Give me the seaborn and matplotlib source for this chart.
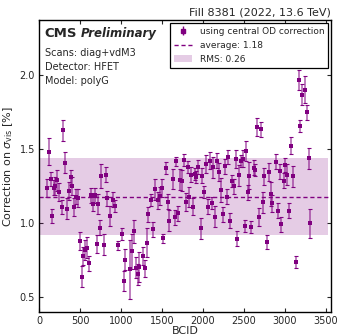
import matplotlib
matplotlib.use("Agg")
import matplotlib.pyplot as plt
import seaborn as sns
import pandas as pd
from matplotlib.patches import Patch

bcid = [97, 118, 142, 162, 183, 199, 219, 244, 276, 296, 321, 341, 361, 386, 406, 426, 451, 475,
        499, 520, 540, 560, 585, 609, 637, 662, 686, 702, 723, 743, 763, 788, 816, 836, 861, 905,
        922, 966, 1015, 1035, 1056, 1117, 1137, 1157, 1190, 1206, 1226, 1271, 1295, 1315, 1336,
        1364, 1389, 1413, 1458, 1478, 1498, 1519, 1551, 1571, 1592, 1632, 1657, 1677, 1701, 1726,
        1746, 1770, 1790, 1815, 1835, 1855, 1876, 1900, 1920, 1941, 1973, 1994, 2014, 2038, 2058,
        2083, 2107, 2127, 2152, 2172, 2196, 2217, 2241, 2266, 2290, 2310, 2330, 2355, 2375, 2400,
        2420, 2444, 2469, 2485, 2513, 2529, 2550, 2570, 2590, 2623, 2643, 2667, 2688, 2712, 2732,
        2753, 2789, 2810, 2830, 2850, 2895, 2919, 2939, 2960, 2988, 3009, 3033, 3053, 3078, 3098,
        3139, 3170, 3191, 3211, 3252, 3273, 3294, 3314]
corr = [1.24, 1.485, 1.30, 1.05, 1.24, 1.25, 1.29, 1.21, 1.11, 1.63, 1.41, 1.10, 1.22, 1.31, 1.25,
        1.11, 1.18, 1.17, 0.88, 0.64, 0.78, 0.82, 0.835, 0.73, 1.19, 1.13, 1.19, 0.86, 1.13, 0.97,
        1.32, 0.855, 1.33, 1.17, 1.05, 1.16, 1.115, 0.85, 0.93, 0.61, 0.755, 0.69, 0.81, 0.945,
        0.70, 0.655, 0.705, 0.78, 0.695, 0.87, 1.06, 1.16, 0.96, 1.23, 1.155, 1.185, 1.24, 0.898,
        1.376, 1.147, 1.018, 1.299, 1.041, 1.420, 1.068, 1.295, 1.288, 1.431, 1.145, 1.379, 1.177,
        1.329, 1.113, 1.336, 1.313, 1.381, 0.966, 1.322, 1.211, 1.401, 1.113, 1.424, 1.138, 1.379,
        1.045, 1.424, 1.347, 1.227, 1.061, 1.385, 1.181, 1.449, 1.018, 1.288, 1.249, 1.435, 0.896,
        1.324, 1.420, 1.438, 0.984, 1.490, 1.209, 1.322, 0.973, 1.376, 1.363, 1.653, 1.041, 1.635,
        1.143, 1.317, 0.873, 1.347, 1.200, 1.134, 1.417, 1.086, 1.351, 0.993, 1.288, 1.395, 1.329,
        1.086, 1.526, 1.317, 0.737, 1.97, 1.656, 1.87, 1.905, 1.75, 1.44, 1.00]
err = [0.06, 0.09, 0.05, 0.05, 0.05, 0.06, 0.07, 0.06, 0.05, 0.07, 0.07, 0.07, 0.06, 0.05, 0.06,
       0.06, 0.05, 0.06, 0.06, 0.07, 0.06, 0.07, 0.07, 0.05, 0.05, 0.05, 0.05, 0.06, 0.07, 0.05,
       0.08, 0.07, 0.05, 0.05, 0.07, 0.05, 0.04, 0.03, 0.04, 0.07, 0.07, 0.20, 0.12, 0.08, 0.07,
       0.07, 0.10, 0.06, 0.06, 0.10, 0.05, 0.04, 0.05, 0.07, 0.06, 0.06, 0.06, 0.03, 0.04, 0.05,
       0.07, 0.07, 0.05, 0.03, 0.05, 0.07, 0.07, 0.04, 0.06, 0.04, 0.07, 0.05, 0.06, 0.04, 0.04,
       0.05, 0.07, 0.05, 0.04, 0.06, 0.05, 0.06, 0.04, 0.07, 0.07, 0.05, 0.06, 0.08, 0.05, 0.05,
       0.05, 0.05, 0.05, 0.04, 0.05, 0.06, 0.05, 0.07, 0.04, 0.06, 0.04, 0.07, 0.05, 0.09, 0.04,
       0.05, 0.04, 0.06, 0.06, 0.05, 0.07, 0.06, 0.05, 0.06, 0.08, 0.06, 0.05, 0.05, 0.05, 0.05,
       0.05, 0.05, 0.07, 0.05, 0.06, 0.07, 0.04, 0.07, 0.04, 0.07, 0.09, 0.05, 0.07, 0.10]

average = 1.18
rms = 0.26
band_x = [0, 3530]

sns.set_style("ticks")
plt.rcParams['font.family'] = ['DejaVu Sans']

df = pd.DataFrame({"BCID": bcid, "corr": corr, "err": err})
color = "#800080"

fig = plt.figure(figsize=(3.38, 3.36), dpi=100)
ax = fig.add_axes([0.1154, 0.0714, 0.8636, 0.869])

ax.fill_between(band_x, average - rms, average + rms, color=color, alpha=0.2, lw=0, zorder=1)
ax.plot(band_x, [average, average], ls=(0, (3, 2)), color=color, lw=1, zorder=2)
ax.errorbar(df["BCID"], df["corr"], yerr=df["err"], fmt="none", ecolor=color, elinewidth=1.3,
            alpha=0.55, capsize=0, zorder=3)
ax.errorbar(df["BCID"], df["corr"], yerr=df["err"], fmt="none", ecolor=color, elinewidth=0,
            capsize=1.1, capthick=0.8, zorder=3)
sns.scatterplot(data=df, x="BCID", y="corr", ax=ax, color=color, marker="s", s=6,
                edgecolor=color, linewidth=0, legend=False, zorder=4)

ax.set_xlim(0, 3564)
ax.set_ylim(0.4, 2.375)
ax.set_xticks([0, 500, 1000, 1500, 2000, 2500, 3000, 3500])
ax.set_yticks([0.5, 1.0, 1.5, 2.0])
ax.tick_params(direction="in", length=3, width=0.8, labelsize=7, top=True, right=True,
               pad=3)
for s in ax.spines.values():
    s.set_linewidth(1.0)
    s.set_color("black")
ax.set_xlabel("BCID", fontsize=8, labelpad=0)
ax.set_ylabel(r"Correction on $\sigma_{\rm vis}$ [%]", fontsize=8, labelpad=3)

ax.set_title("Fill 8381 (2022, 13.6 TeV)", loc="right", fontsize=8, pad=3)

ax.text(0.02, 0.955, "CMS", transform=ax.transAxes, fontsize=9.5, fontweight="bold",
        va="center")
ax.text(0.142, 0.953, "Preliminary", transform=ax.transAxes, fontsize=8.5, fontweight="bold",
        style="italic", va="center")
ax.text(0.02, 0.888, "Scans: diag+vdM3", transform=ax.transAxes, fontsize=7, va="center")
ax.text(0.02, 0.838, "Detector: HFET", transform=ax.transAxes, fontsize=7, va="center")
ax.text(0.02, 0.790, "Model: polyG", transform=ax.transAxes, fontsize=7, va="center")

eb = ax.errorbar([], [], yerr=[], fmt="s", color=color, ms=2.5, elinewidth=1, capsize=1)
line = plt.Line2D([], [], ls=(0, (3, 2)), color=color, lw=1)
patch = Patch(facecolor=color, alpha=0.2, edgecolor="none")
leg = ax.legend([eb, line, patch],
                ["using central OD correction", f"average: {average:.2f}", f"RMS: {rms:.2f}"],
                loc="upper right", fontsize=6.5, frameon=True, fancybox=False, framealpha=1,
                edgecolor="black", borderaxespad=0.3, handlelength=2.0, labelspacing=0.55,
                borderpad=0.45)
leg.get_frame().set_linewidth(0.9)

fig.savefig("out.png", dpi=100)
